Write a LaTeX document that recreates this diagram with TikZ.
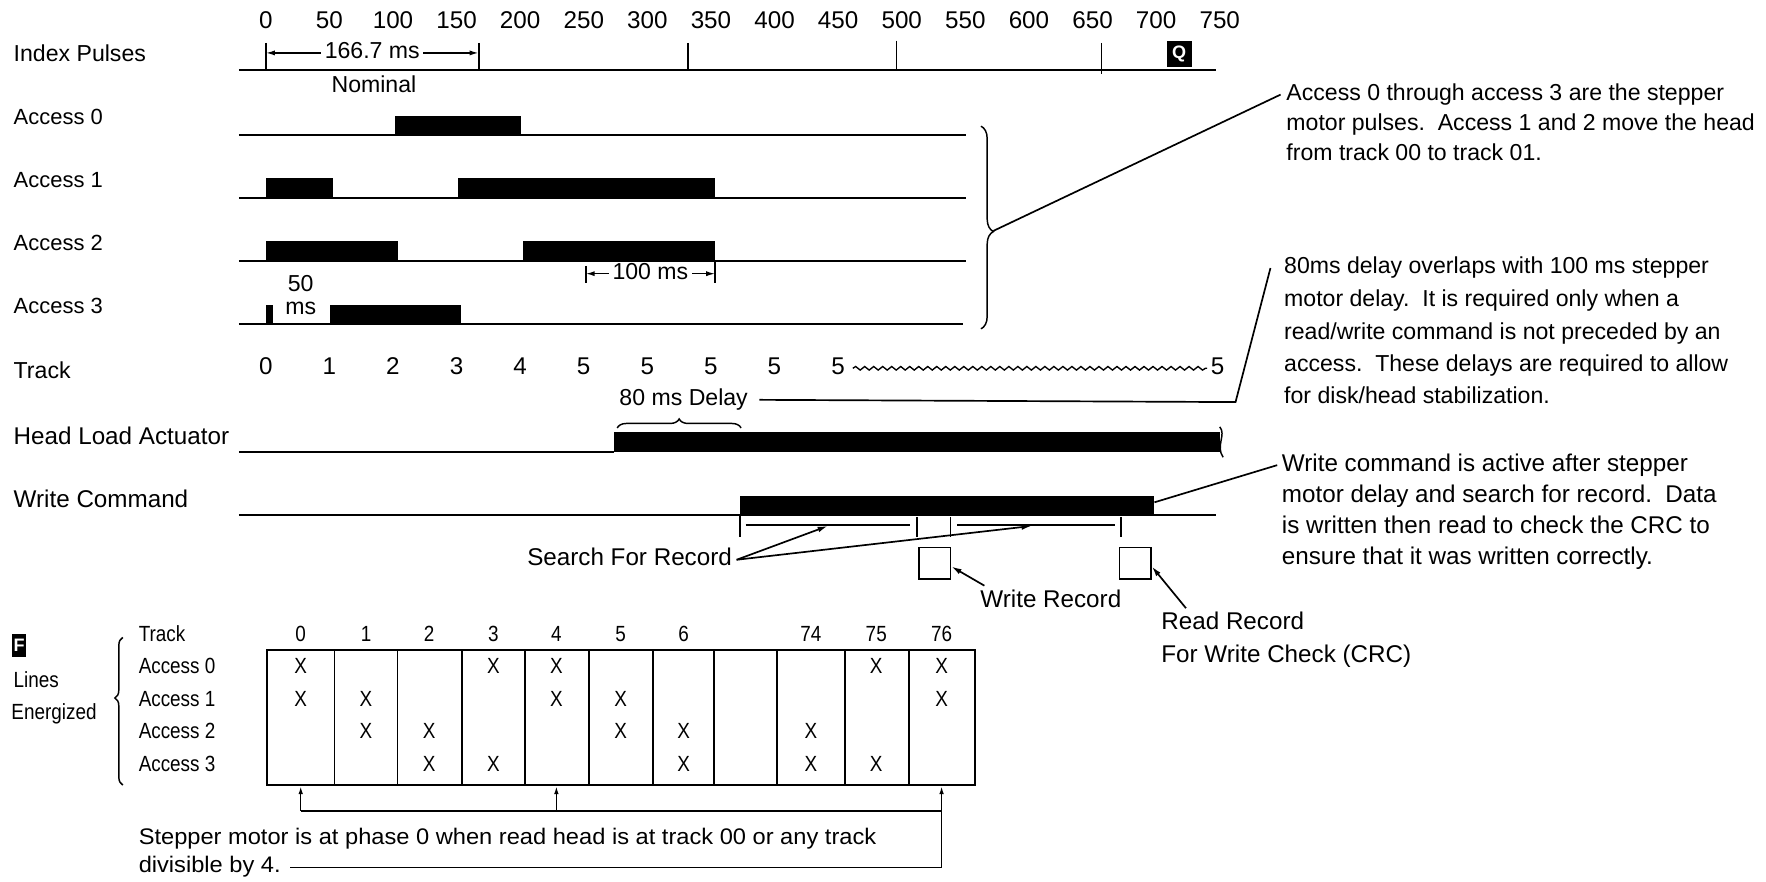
\documentclass[tikz,border=0pt]{standalone}
\usepackage{fontspec}
\setmainfont{Liberation Sans}
\newfontfamily\condfont[FakeStretch=0.86]{Liberation Sans}
\newfontfamily\widefont[FakeStretch=1.05]{Liberation Sans}
\usetikzlibrary{arrows.meta,decorations.pathreplacing,decorations.pathmorphing}
\begin{document}
\begin{tikzpicture}[x=1pt,y=-1pt,
  txt/.style={inner sep=0pt,font=\fontsize{20.5}{24}\selectfont,text height=14.5pt,text depth=4pt},
  small/.style={font=\fontsize{19.5}{23}\selectfont},
  big/.style={font=\fontsize{21.5}{25}\selectfont},
  ctxt/.style={inner sep=0pt,font=\condfont\fontsize{19.5}{23}\selectfont,text height=14pt,text depth=4pt},
  wtxt/.style={inner sep=0pt,font=\widefont\fontsize{20}{23}\selectfont,text height=14pt,text depth=4pt,anchor=west},
  lbl/.style={txt,anchor=west},
  clbl/.style={ctxt,anchor=west},
  sig/.style={line width=2pt},
  conn/.style={line width=1.5pt},
  arr/.style={conn,-{Latex[length=9pt,width=5pt]}},
  sarr/.style={line width=1.3pt,-{Latex[length=7pt,width=4pt]}},
  dim/.style={line width=1.3pt,{Latex[length=8pt,width=4.5pt]}-{Latex[length=8pt,width=4.5pt]}},
  tick/.style={line width=1.6pt},
  brc/.style={line width=1.3pt,decorate},
  inv/.style={fill=black,text=white,inner sep=0pt,font=\bfseries\fontsize{16}{16}\selectfont},
  bx/.style={draw,line width=1.4pt,minimum size=28pt,inner sep=0pt},
]
\useasboundingbox (0,0) rectangle (1568,783);

% ---------- time axis ----------
\foreach \tv [count=\i from 0] in {0,50,...,750}
  \node[txt,big] (t\i) at ({236+1.1293*\tv},20) {\tv};

% ---------- Index pulses ----------
\node[lbl] (lIP) at (12,49) {Index Pulses};
\coordinate (ip0) at (212,62);
\coordinate (ip1) at (1080,62);
\draw[sig] (ip0) -- (ip1);
\foreach \xx/\yy/\zz in {236/38/62, 425/38/62, 611/38/62, 796/36/62, 978/38/66}
  \draw[tick] (\xx,\yy) -- (\xx,\zz);
\coordinate (d1a) at (236,47);
\coordinate (d1b) at (425,47);
\draw[dim] (d1a) -- (d1b) node[midway,txt,fill=white,inner xsep=3pt] (d166) {166.7 ms};
\node[txt] (nom) at (332,77) {Nominal};
\node[inv,minimum width=22pt,minimum height=23pt] (Q) at (1047,48) {Q};

% ---------- Access lines ----------
\node[lbl,small] (lA0) at (12,105) {Access 0};
\draw[sig] (212,120) -- (858,120);
\fill (351,103) rectangle (463,120);

\node[lbl,small] (lA1) at (12,161) {Access 1};
\draw[sig] (212,176) -- (858,176);
\fill (236,158) rectangle (296,176);
\fill (407,158) rectangle (635,176);

\node[lbl,small] (lA2) at (12,217) {Access 2};
\draw[sig] (212,232) -- (858,232);
\fill (236,214) rectangle (353,232);
\fill (464,214) rectangle (635,232);

\node[lbl,small] (lA3) at (12,273) {Access 3};
\draw[sig] (212,288) -- (855,288);
\fill (236,271) rectangle (242,288);
\fill (293,271) rectangle (409,288);
\node[txt] (n50) at (267,254) {50};
\node[txt] (nms) at (267,274) {ms};

\draw[tick] (520,236) -- (520,251);
\draw[tick] (635,232) -- (635,251);
\coordinate (d2a) at (520,243);
\coordinate (d2b) at (635,243);
\draw[dim] (d2a) -- (d2b) node[midway,txt,fill=white,inner xsep=3pt] (d100) {100 ms};

\draw[brc,decoration={brace,amplitude=11pt,aspect=0.52}] (871,112) -- (871,292);
\coordinate (brT) at (882,205);

\node[lbl] (n1a) at (1142,84) {Access 0 through access 3 are the stepper};
\node[lbl] (n1b) at (1142,111) {motor pulses.\ \ Access 1 and 2 move the head};
\node[lbl] (n1c) at (1142,137) {from track 00 to track 01.};
\draw[conn] (brT) -- ([xshift=-5pt]n1a.west);

% ---------- Track ----------
\node[lbl] (lTr) at (12,331) {Track};
\foreach \k in {0,...,4}
  \node[txt,big] (tr\k) at ({236+56.45*\k},327) {\k};
\foreach \k in {5,...,9}
  \node[txt,big] (tr\k) at ({236+56.45*\k},327) {5};
\node[txt,big] (tr10) at (1081,327) {5};
\draw[line width=1.2pt,decorate,decoration={snake,amplitude=1.6pt,segment length=8pt}]
  ([xshift=7pt]tr9.east) -- ([xshift=-3pt]tr10.west);

\node[txt] (d80) at (607,355) {80 ms Delay};
\node[lbl] (n2a) at (1140,238) {80ms delay overlaps with 100 ms stepper};
\node[lbl] (n2b) at (1140,267) {motor delay.\ \ It is required only when a};
\node[lbl] (n2c) at (1140,296) {read/write command is not preceded by an};
\node[lbl] (n2d) at (1140,325) {access.\ \ These delays are required to allow};
\node[lbl] (n2e) at (1140,353) {for disk/head stabilization.};
\coordinate (c80) at (1097,357);
\draw[conn] ([xshift=10pt]d80.east) -- (c80) -- ([xshift=-12pt]n2a.west);

% ---------- Head load actuator ----------
\node[lbl,big] (lHL) at (12,389) {Head Load Actuator};
\draw[sig] (212,401) -- (545,401);
\fill (545,384) rectangle (1083,401);
\draw[line width=1.3pt] (1083,379) .. controls (1089,386) and (1079,396) .. (1086,406);
\draw[brc,decoration={brace,amplitude=8pt}] (548,380) -- (658,380);

% ---------- Write command ----------
\node[lbl,big] (lWC) at (12,445) {Write Command};
\draw[sig] (212,457) -- (1080,457);
\fill (657,440) rectangle (1025,457);
\coordinate (wcE) at (1025,446);
\node[lbl,big] (n3a) at (1138,413) {Write command is active after stepper};
\node[lbl,big] (n3b) at (1138,441) {motor delay and search for record.\ \ Data};
\node[lbl,big] (n3c) at (1138,468) {is written then read to check the CRC to};
\node[lbl,big] (n3d) at (1138,496) {ensure that it was written correctly.};
\draw[conn] (wcE) -- ([xshift=-4pt]n3a.west);

\draw[tick] (657,457) -- (657,477);
\draw[tick] (814,459) -- (814,477);
\draw[tick] (844,459) -- (844,477);
\draw[tick] (995,459) -- (995,477);
\coordinate (s1a) at (662,466);
\coordinate (s1b) at (808,466);
\coordinate (s2a) at (850,466);
\coordinate (s2b) at (990,466);
\draw[conn] (s1a) -- (s1b);
\draw[conn] (s2a) -- (s2b);

\node[txt,big] (sfr) at (559,497) {Search For Record};
\coordinate (sfrP) at ([xshift=4pt]sfr.east);
\coordinate (a1) at (735,467);
\coordinate (a2) at (916,467);
\draw[arr] (sfrP) -- (a1);
\draw[arr] (sfrP) -- (a2);

\node[bx] (wr) at (830,500) {};
\node[bx] (rr) at (1008,500) {};
\node[txt,big] (wrt) at (933,534) {Write Record};
\coordinate (wrs) at (874,520);
\draw[arr] (wrs) -- ([yshift=-3pt]wr.east);
\node[lbl,big] (rrt1) at (1031,554) {Read Record};
\node[lbl,big] (rrt2) at (1031,583) {For Write Check (CRC)};
\coordinate (rrs) at (1053,540);
\draw[arr] (rrs) -- ([yshift=-3pt]rr.east);

% ---------- Lines energized table ----------
\node[inv,minimum width=12pt,minimum height=20pt] (F) at (17,573) {F};
\node[clbl] (lLines) at (12,605) {Lines};
\node[clbl] (lEn) at (10,634) {Energized};
\draw[brc,decoration={brace,amplitude=7pt,aspect=0.59}] (109,697) -- (109,566);

\node[clbl] (rT) at (123,565) {Track};
\node[clbl] (r0) at (123,593) {Access 0};
\node[clbl] (r1) at (123,622) {Access 1};
\node[clbl] (r2) at (123,651) {Access 2};
\node[clbl] (r3) at (123,680) {Access 3};

\draw[line width=1.6pt] (237,577) rectangle (866,697);
\foreach \xx in {297,353,410,466,523,580,634,690,750,807}
  \draw[line width=1.4pt] (\xx,577) -- (\xx,697);
\foreach \xx/\lab [count=\i] in {267/0,325/1,381/2,438/3,494/4,551/5,607/6,720/74,778/75,836/76}
  \node[ctxt] (h\i) at (\xx,565) {\lab};
\foreach \xx/\yy [count=\i] in {267/593,267/622,325/622,325/651,381/651,381/680,438/593,438/680,
  494/593,494/622,551/622,551/651,607/651,607/680,720/651,720/680,778/593,778/680,836/593,836/622}
  \node[ctxt] (x\i) at (\xx,\yy) {X};

\coordinate (b0) at (267,720);
\coordinate (b4) at (494,720);
\coordinate (b76) at (836,720);
\coordinate (tb0) at (267,698);
\coordinate (tb4) at (494,698);
\coordinate (tb76) at (836,698);
\draw[sarr] (b0) -- (tb0);
\draw[sarr] (b4) -- (tb4);
\draw[sarr] (b76) -- (tb76);
\node[wtxt] (st1) at (123,745) {Stepper motor is at phase 0 when read head is at track 00 or any track};
\node[wtxt] (st2) at (123,770) {divisible by 4.};
\coordinate (dvE) at ([xshift=8pt]st2.east);
\coordinate (b76d) at (836,770);
\draw[line width=1.3pt] (b0) -- (b76) -- (b76d) -- (dvE);
\end{tikzpicture}
\end{document}
